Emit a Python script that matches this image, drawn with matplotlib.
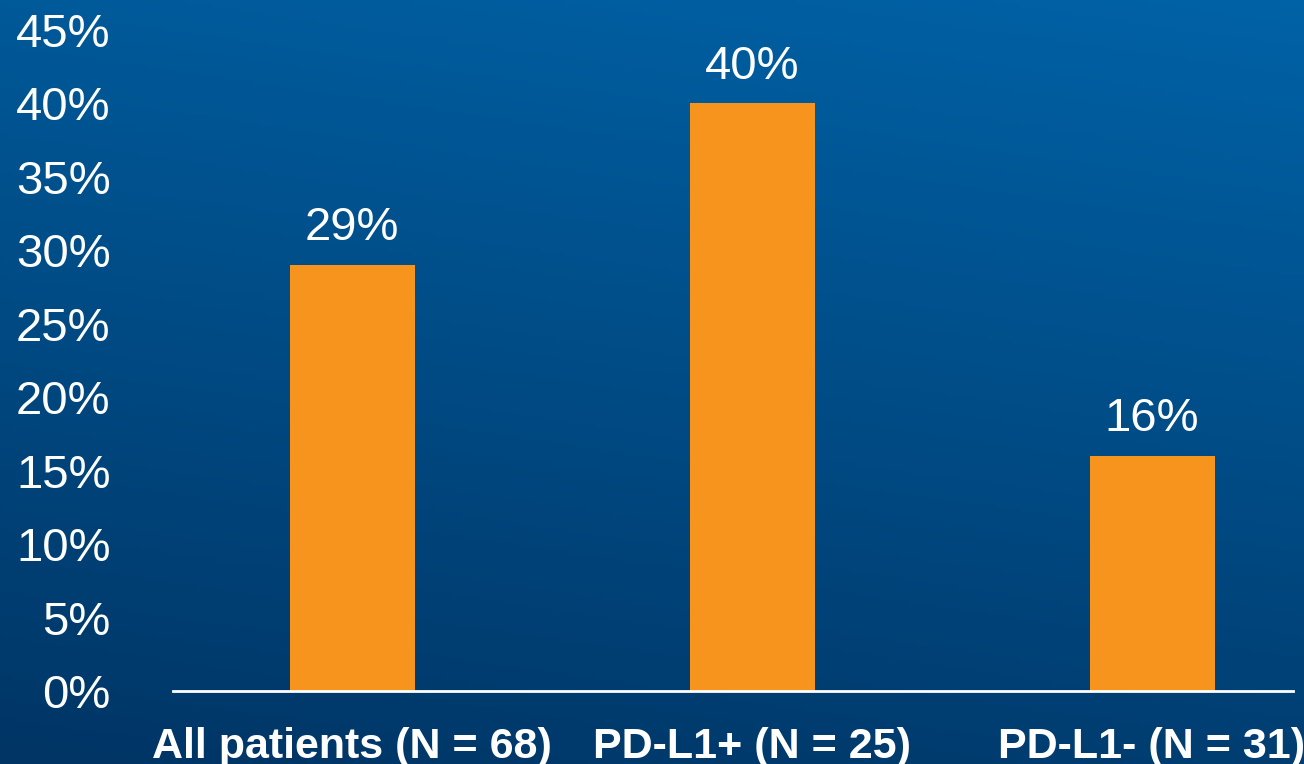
import numpy as np
import matplotlib
matplotlib.use('Agg')
import matplotlib.pyplot as plt
from matplotlib.colors import LinearSegmentedColormap

categories = ['All patients (N = 68)', 'PD-L1+ (N = 25)', 'PD-L1- (N = 31)']
values = [29, 40, 16]
value_labels = ['29%', '40%', '16%']
yticks = [0, 5, 10, 15, 20, 25, 30, 35, 40, 45]
ytick_labels = ['%d%%' % t for t in yticks]

plt.rcParams['font.family'] = ['Liberation Sans', 'DejaVu Sans']

W, H = 1304, 764
fig = plt.figure(figsize=(W / 100, H / 100), dpi=100)

# background gradient: lighter blue top-right, darker bottom-left
bg = fig.add_axes([0, 0, 1, 1])
yy, xx = np.mgrid[0:1:200j, 0:1:300j]
g = 0.8 * yy + 0.2 * (1 - xx)
cmap = LinearSegmentedColormap.from_list('bg', ['#0062a6', '#003565'])
bg.imshow(g, cmap=cmap, aspect='auto', extent=[0, 1, 0, 1], origin='upper')
bg.axis('off')

ax = fig.add_axes([173 / W, (H - 691) / H, (1293 - 173) / W, (691 - 30) / H])
ax.patch.set_alpha(0)
x = np.arange(len(categories))
bars = ax.bar(x, values, width=0.3125, color='#f7941d', zorder=2)

for xi, v, lab in zip(x, values, value_labels):
    ax.text(xi, v + 1.0, lab, ha='center', va='bottom', color='white', fontsize=34)

ax.set_ylim(0, 45)
ax.set_xlim((173 - 352) / 400, (1293 - 352) / 400)
ax.set_yticks(yticks)
ax.set_yticklabels(ytick_labels, color='white', fontsize=34)
ax.set_xticks(x)
ax.set_xticklabels(categories, color='white', fontsize=31, fontweight='bold')
ax.tick_params(axis='y', length=0, pad=45)
ax.tick_params(axis='x', length=0, pad=26)

for s in ['top', 'right', 'left']:
    ax.spines[s].set_visible(False)
ax.spines['bottom'].set_color('white')
ax.spines['bottom'].set_linewidth(2)

fig.savefig('out.png', dpi=100)
